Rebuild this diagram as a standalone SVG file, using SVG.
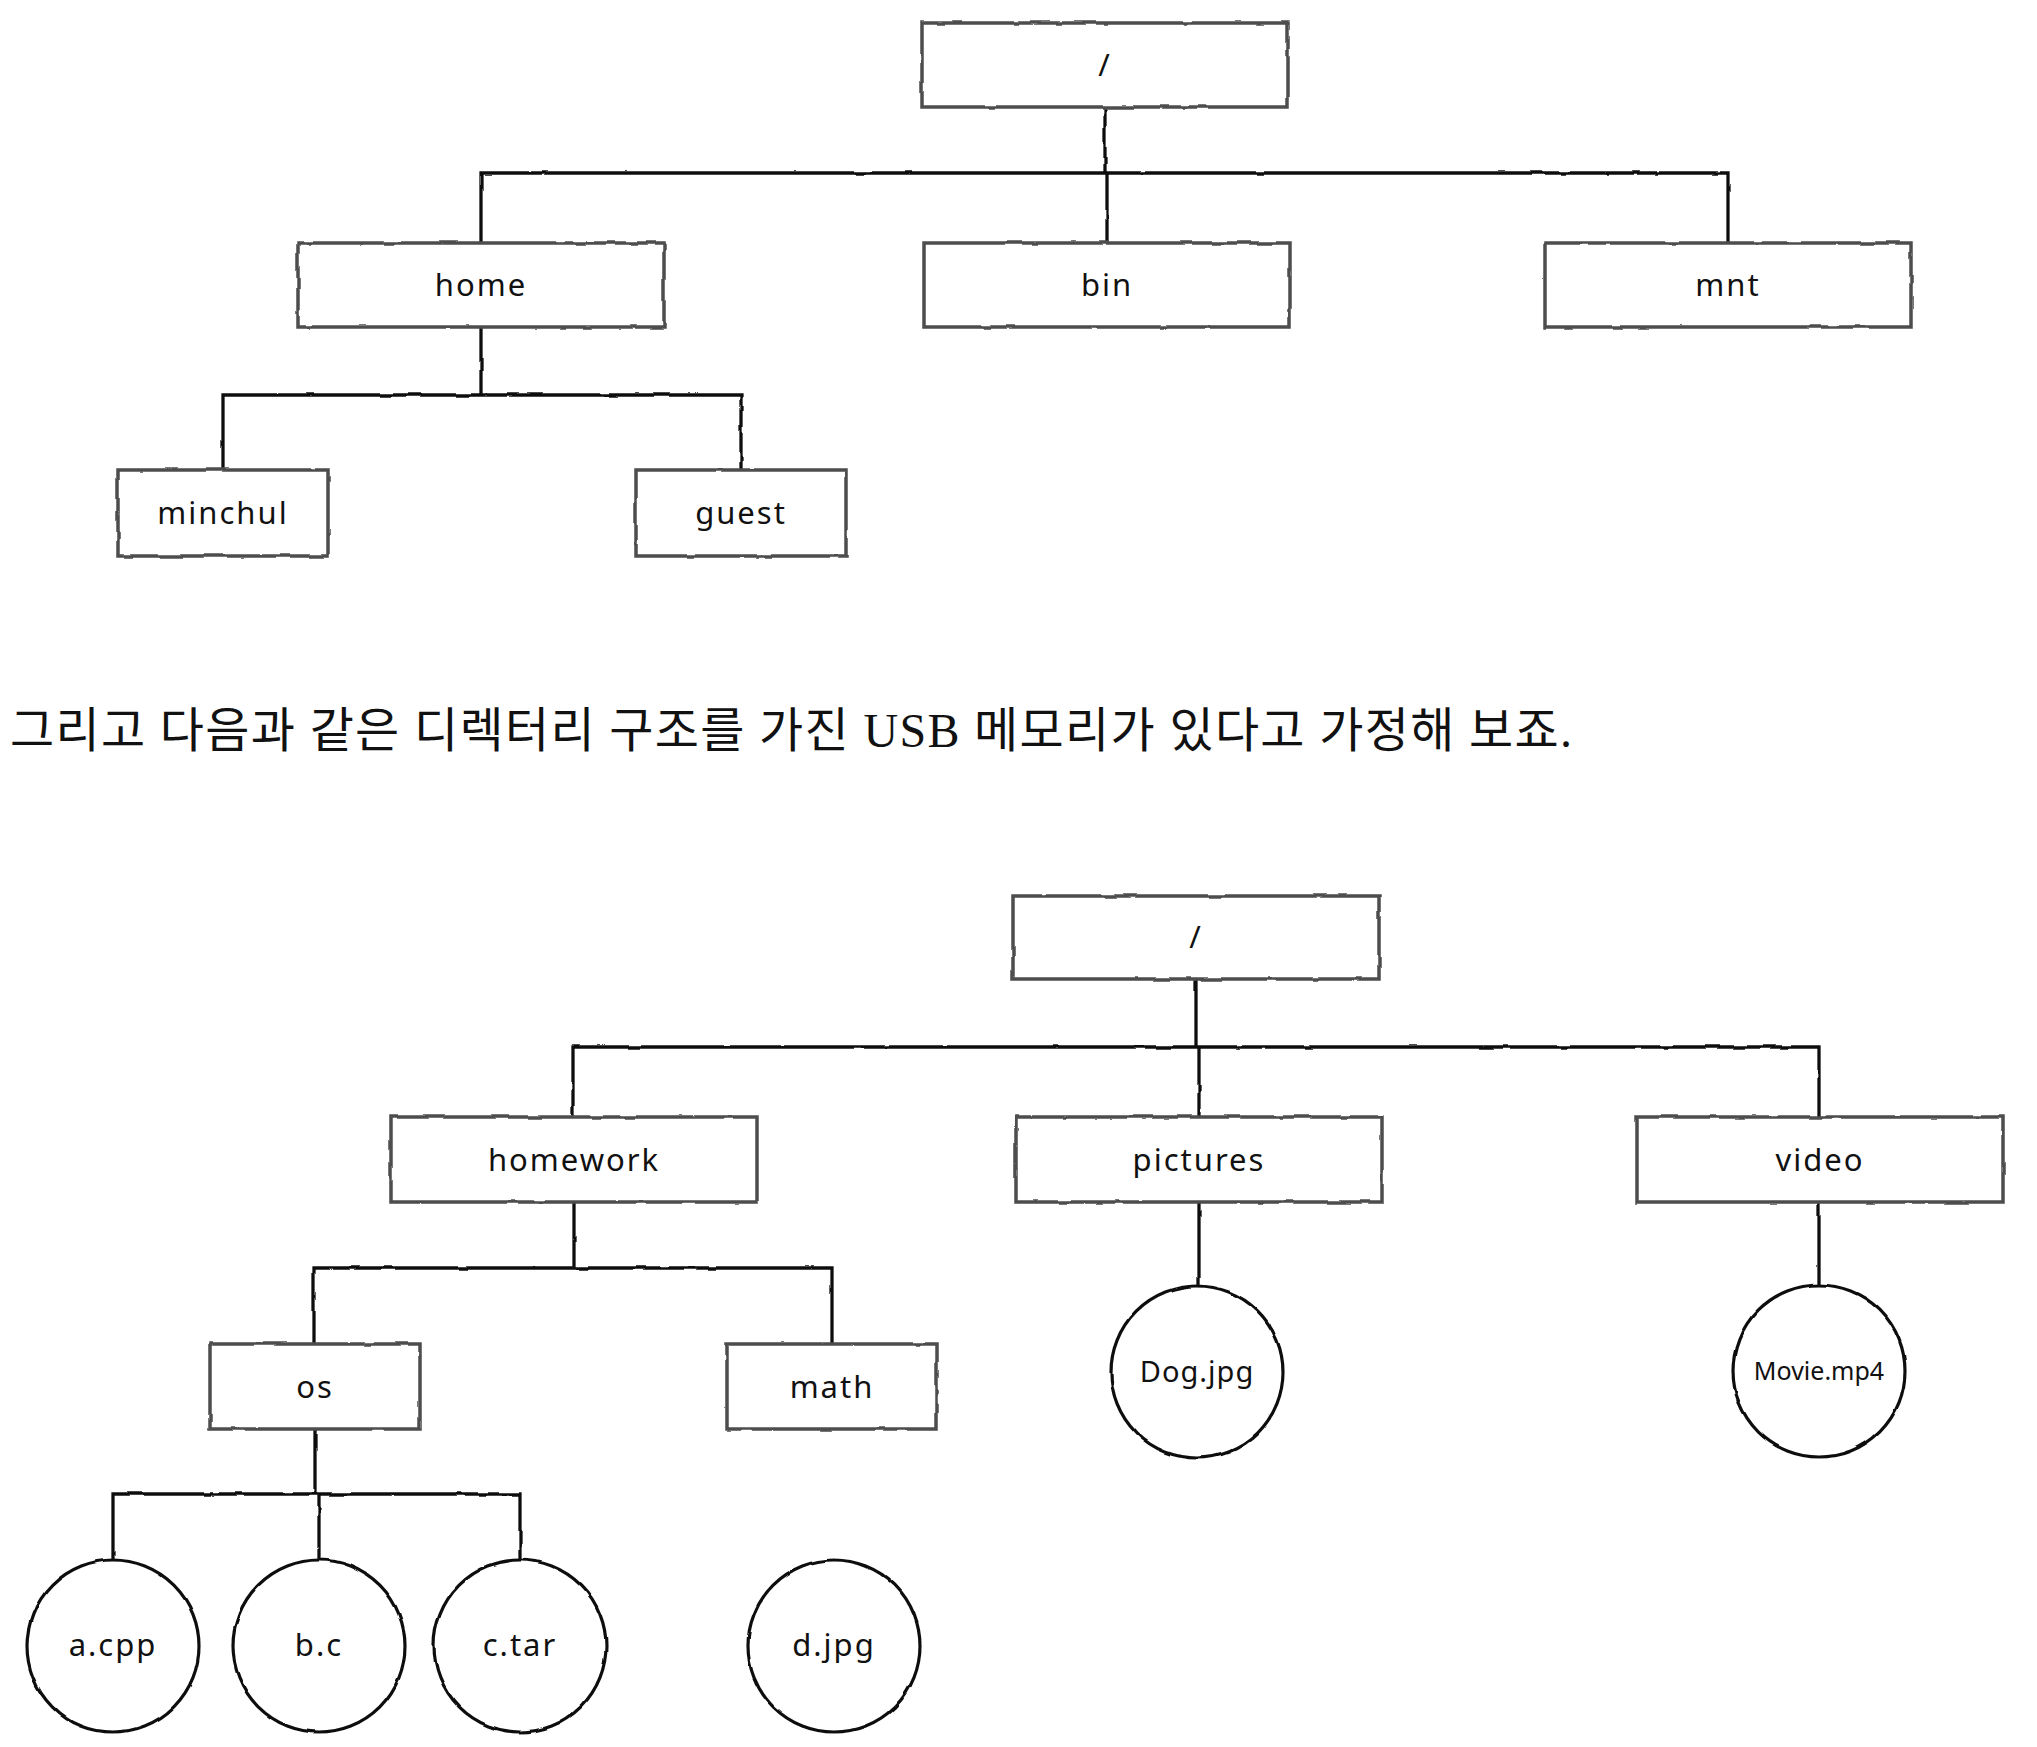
<svg xmlns="http://www.w3.org/2000/svg" width="2037" height="1747" viewBox="0 0 2037 1747">
<defs>
<filter id="rough" x="-5%" y="-5%" width="110%" height="110%">
<feTurbulence type="fractalNoise" baseFrequency="0.04" numOctaves="2" seed="3" result="n"/>
<feDisplacementMap in="SourceGraphic" in2="n" scale="3" xChannelSelector="R" yChannelSelector="G"/>
</filter>
</defs>
<style>
.box{fill:#fff;stroke:#4d4d4d;stroke-width:3.5;filter:url(#rough)}
.file{fill:#fff;stroke:#111;stroke-width:3.2;filter:url(#rough)}
.lbl{font-family:"Noto Sans","DejaVu Sans",sans-serif;font-size:31px;letter-spacing:2px;fill:#111;text-anchor:middle}
.conn{fill:none;stroke:#111;stroke-width:3.3;stroke-linecap:square;filter:url(#rough)}
.para{font-family:"Liberation Serif","Noto Sans CJK KR",serif;font-size:48px;fill:#111}
</style>
<rect width="2037" height="1747" fill="#fff"/>

<g id="connectors">
<path class="conn" d="M1105 107V173M481 173H1728M481 173V243M1107 173V243M1728 173V243"/>
<path class="conn" d="M481 327V395M223 395H741M223 395V470M741 395V470"/>
<path class="conn" d="M1196 979V1047M573 1047H1819M573 1047V1117M1199 1047V1117M1819 1047V1117"/>
<path class="conn" d="M574 1202V1268M314 1268H832M314 1268V1344M832 1268V1344"/>
<path class="conn" d="M1199 1202V1286M1819 1202V1285"/>
<path class="conn" d="M315 1429V1494M113 1494H520M113 1494V1560M319 1494V1560M520 1494V1560"/>
<path class="conn" d="M832 1429V1560"/>
</g>

<g id="root1"><rect class="box" x="922" y="23" width="366" height="84"/><text class="lbl" x="1105" y="76">/</text></g>
<g id="home"><rect class="box" x="298" y="243" width="366" height="84"/><text class="lbl" x="481" y="296">home</text></g>
<g id="bin"><rect class="box" x="924" y="243" width="366" height="84"/><text class="lbl" x="1107" y="296">bin</text></g>
<g id="mnt"><rect class="box" x="1545" y="243" width="366" height="84"/><text class="lbl" x="1728" y="296">mnt</text></g>
<g id="minchul"><rect class="box" x="118" y="470" width="210" height="86"/><text class="lbl" x="223" y="524">minchul</text></g>
<g id="guest"><rect class="box" x="636" y="470" width="210" height="86"/><text class="lbl" x="741" y="524">guest</text></g>

<text id="sentence" class="para" x="10" y="747" textLength="1562" lengthAdjust="spacing">그리고 다음과 같은 디렉터리 구조를 가진 USB 메모리가 있다고 가정해 보죠.</text>

<g id="root2"><rect class="box" x="1013" y="896" width="366" height="83"/><text class="lbl" x="1196" y="948">/</text></g>
<g id="homework"><rect class="box" x="391" y="1117" width="366" height="85"/><text class="lbl" x="574" y="1171">homework</text></g>
<g id="pictures"><rect class="box" x="1016" y="1117" width="366" height="85"/><text class="lbl" x="1199" y="1171">pictures</text></g>
<g id="video"><rect class="box" x="1637" y="1117" width="366" height="85"/><text class="lbl" x="1820" y="1171">video</text></g>
<g id="os"><rect class="box" x="210" y="1344" width="210" height="85"/><text class="lbl" x="315" y="1398">os</text></g>
<g id="math"><rect class="box" x="727" y="1344" width="210" height="85"/><text class="lbl" x="832" y="1398">math</text></g>

<g id="dog"><circle class="file" cx="1197" cy="1372" r="86"/><text class="lbl" x="1197" y="1382" style="font-size:29px;letter-spacing:1px">Dog.jpg</text></g>
<g id="movie"><circle class="file" cx="1819" cy="1371" r="86"/><text class="lbl" x="1819" y="1380" style="font-size:25px;letter-spacing:0px">Movie.mp4</text></g>
<g id="acpp"><circle class="file" cx="113" cy="1646" r="86"/><text class="lbl" x="113" y="1656">a.cpp</text></g>
<g id="bc"><circle class="file" cx="319" cy="1646" r="86"/><text class="lbl" x="319" y="1656">b.c</text></g>
<g id="ctar"><circle class="file" cx="520" cy="1646" r="86"/><text class="lbl" x="520" y="1656">c.tar</text></g>
<g id="djpg"><circle class="file" cx="834" cy="1646" r="86"/><text class="lbl" x="834" y="1656">d.jpg</text></g>
</svg>
